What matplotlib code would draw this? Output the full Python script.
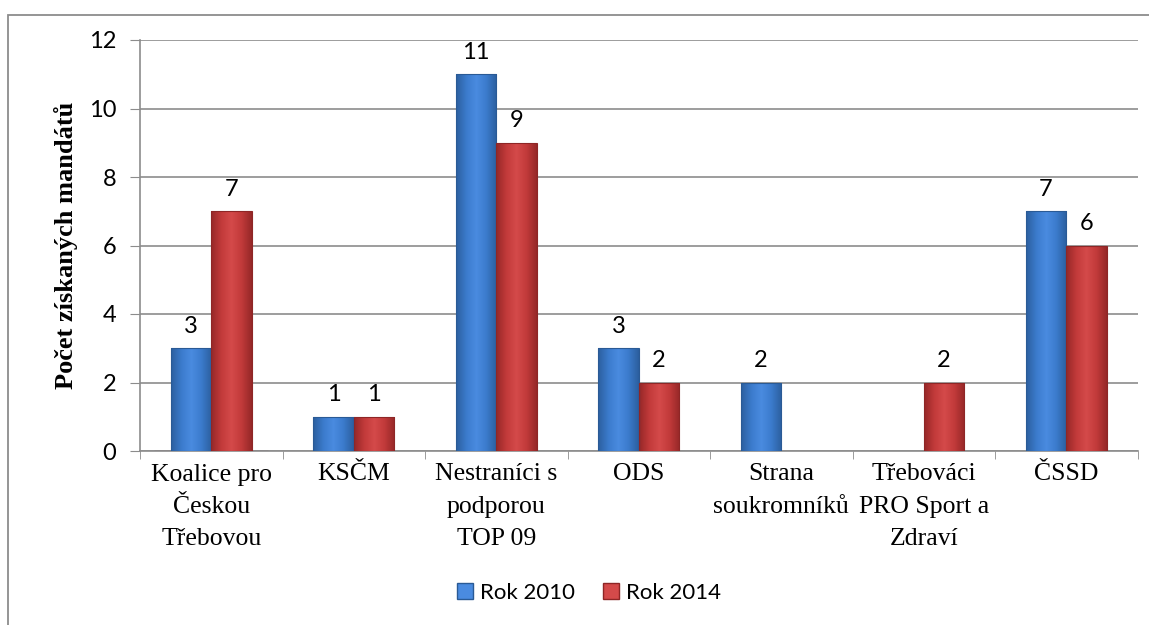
import numpy as np
import matplotlib
matplotlib.use("Agg")
import matplotlib.pyplot as plt
from matplotlib.colors import LinearSegmentedColormap
from matplotlib.patches import Rectangle

categories = ["Koalice pro\nČeskou\nTřebovou", "KSČM", "Nestraníci s\npodporou\nTOP 09",
              "ODS", "Strana\nsoukromníků", "Třebováci\nPRO Sport a\nZdraví", "ČSSD"]
rok2010 = [3, 1, 11, 3, 2, None, 7]
rok2014 = [7, 1, 9, 2, None, 2, 6]
series_names = ["Rok 2010", "Rok 2014"]
yticks = [0, 2, 4, 6, 8, 10, 12]

fig = plt.figure(figsize=(11.49, 6.25), dpi=100)
fig.patches.append(Rectangle((8 / 1149, -0.1), 1.2, 1 - 15 / 625 + 0.1, transform=fig.transFigure,
                             fill=False, edgecolor="#8c8c8c", linewidth=1.3))
ax = fig.add_axes([140 / 1149, 1 - 451 / 625, (1137.5 - 140) / 1149, (451 - 40) / 625])

n = len(categories)
x = np.arange(n)
bw = 1 / 3.5
grid_c = "#8c8c8c"

blue_cmap = LinearSegmentedColormap.from_list("b", ["#2c5f9f", "#3b7bcc", "#4a8be0", "#3b7bcc", "#2c5f9f"])
red_cmap = LinearSegmentedColormap.from_list("r", ["#962828", "#c23a3a", "#d44a4a", "#c23a3a", "#962828"])
grad = np.linspace(0, 1, 64).reshape(1, -1)

for vals, off, cmap, edge, name in [(rok2010, -bw / 2, blue_cmap, "#2a5a95", series_names[0]),
                                    (rok2014, bw / 2, red_cmap, "#8e2626", series_names[1])]:
    v = np.array([0 if a is None else a for a in vals], dtype=float)
    bars = ax.bar(x + off, v, bw, color="none", edgecolor="none", zorder=3)
    for b, val in zip(bars, vals):
        if val is None:
            continue
        x0, y0, w, h = b.get_x(), b.get_y(), b.get_width(), b.get_height()
        im = ax.imshow(grad, cmap=cmap, extent=(x0, x0 + w, y0, y0 + h), aspect="auto", zorder=3)
        im.set_clip_path(b)
        ax.add_patch(Rectangle((x0, y0), w, h, fill=False, edgecolor=edge, linewidth=0.8, zorder=4))
        ax.text(x0 + w / 2, y0 + h + 0.33, f"{val}", ha="center", va="bottom", fontsize=17,
                family="Lato", zorder=5)
    ax.bar([0], [0], color=cmap(0.5), edgecolor=edge, label=name)

ax.set_xlim(-0.5, n - 0.5)
ax.set_ylim(0, 12)
ax.set_yticks(yticks)
ax.set_yticklabels([str(t) for t in yticks], fontsize=17, family="Lato")
ax.set_xticks(x)
ax.set_xticklabels(categories, fontsize=18.5, family="Liberation Serif", linespacing=1.6)
ax.set_xticks(np.arange(n + 1) - 0.5, minor=True)
ax.tick_params(axis="x", which="major", length=0, pad=9)
ax.tick_params(axis="x", which="minor", length=6, color=grid_c, direction="out")
ax.tick_params(axis="y", length=7, color=grid_c, pad=10)
ax.grid(axis="y", color=grid_c, linewidth=1.2, zorder=0)
ax.set_axisbelow(True)
for s in ["top", "right"]:
    ax.spines[s].set_visible(False)
for s in ["left", "bottom"]:
    ax.spines[s].set_color(grid_c)
    ax.spines[s].set_linewidth(1.2)
ax.set_ylabel("Počet získaných mandátů", fontsize=19, family="Liberation Serif",
              fontweight="bold", labelpad=8)

leg = fig.legend(loc="center", bbox_to_anchor=(589 / 1149, 1 - 593 / 625), ncol=2, frameon=False,
                 prop={"family": "Lato", "size": 16}, handlelength=0.7, handleheight=0.7,
                 handletextpad=0.3, columnspacing=1.3)

fig.savefig("out.png", dpi=100)
